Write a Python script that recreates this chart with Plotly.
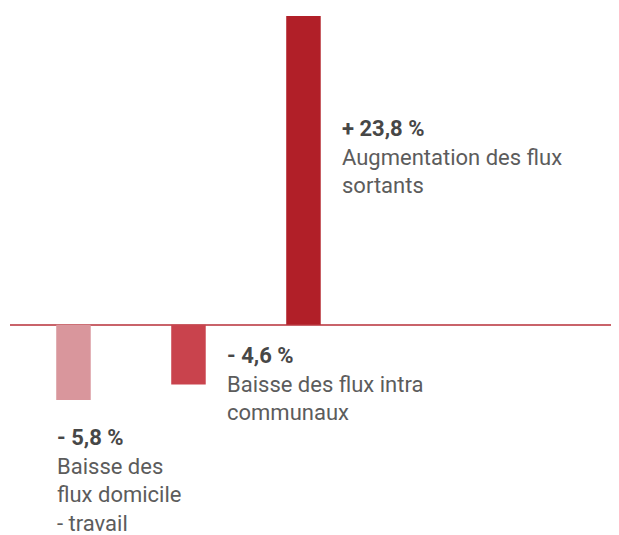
import plotly.graph_objects as go

# Données : évolution des flux (%)
categories = ["domicile-travail", "intra communaux", "sortants"]
valeurs = [-5.8, -4.6, 23.8]
valeurs_txt = ["- 5,8 %", "- 4,6 %", "+ 23,8 %"]
libelles = ["Baisse des<br>flux domicile<br>- travail",
            "Baisse des flux intra<br>communaux",
            "Augmentation des flux<br>sortants"]
couleurs = ["#d9969c", "#c9434d", "#b11f28"]

fig = go.Figure()
fig.add_trace(go.Bar(
    x=[0, 1, 2],
    y=valeurs,
    width=0.3,
    marker=dict(color=couleurs, line=dict(width=0)),
    hoverinfo="skip",
))

# position des étiquettes (décalage en px depuis la ligne zéro)
decal_x = [-18, 37, 37]
decal_y = [-98, -16, 211]
for i in range(3):
    fig.add_annotation(
        x=i, y=0, xref="x", yref="y",
        xanchor="left", yanchor="top", align="left",
        xshift=decal_x[i], yshift=decal_y[i],
        showarrow=False,
        text="<b>" + valeurs_txt[i] + "</b><br>"
             + "<span style='color:#5c5c5c'>" + libelles[i] + "</span>",
        font=dict(family="Roboto", size=22, color="#474747"),
    )

fig.update_layout(
    width=619, height=535,
    margin=dict(l=2, r=12, t=8, b=8),
    paper_bgcolor="white", plot_bgcolor="white",
    showlegend=False,
    xaxis=dict(range=[-0.552, 4.709], visible=False, fixedrange=True),
    yaxis=dict(range=[-16.2, 23.8], showgrid=False, showticklabels=False,
               zeroline=True, zerolinecolor="#c9636a", zerolinewidth=2,
               fixedrange=True),
)

fig.write_html("out.html", config={"displayModeBar": False})
